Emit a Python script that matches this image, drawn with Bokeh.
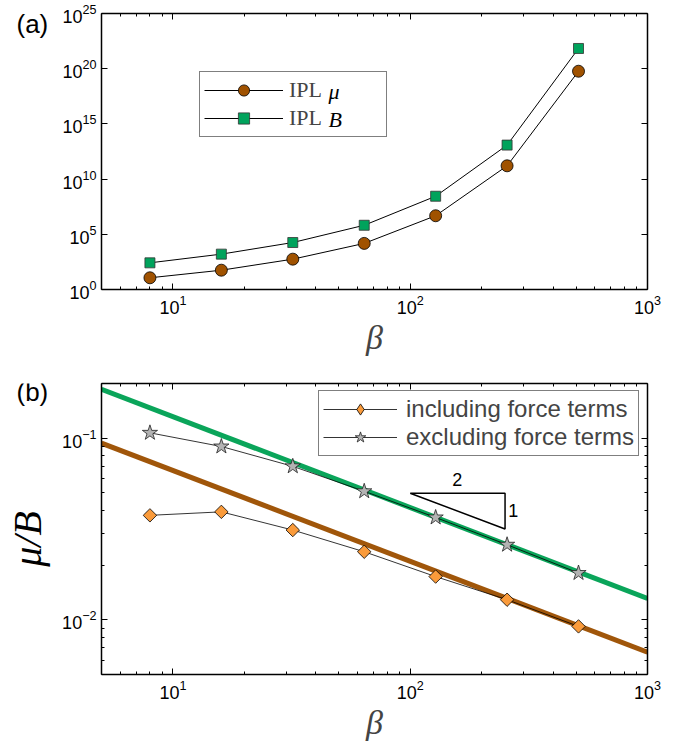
import numpy as np
from bokeh.plotting import figure
from bokeh.layouts import column, row
from bokeh.models import LogAxis, FixedTicker, Legend, LegendItem, Label
from bokeh.embed import file_html
from bokeh.resources import INLINE
from bokeh.core.properties import value

# ---------------- data ----------------
beta = [8, 16, 32, 64, 128, 256, 512]
ipl_mu = [11.5, 56, 560, 1.5e4, 4.8e6, 1.6e11, 5.9e19]
ipl_B = [260, 1.6e3, 1.8e4, 6.6e5, 2.8e8, 1.2e13, 6.8e21]

ratio_incl = [0.0376, 0.0393, 0.0312, 0.0237, 0.0173, 0.0129, 0.0092]
ratio_excl = [0.107, 0.090, 0.0700, 0.0510, 0.0366, 0.0259, 0.0181]

fit_beta = [5, 1000]
fit_excl = [0.186, 0.0131]
fit_incl = [0.0939, 0.00664]

tri_beta = [100, 251, 251, 100]
tri_ratio = [0.0498, 0.0498, 0.0316, 0.0498]
slope_labels = ["2", "1"]
slope_label_beta = [158, 272]
slope_label_ratio = [0.059, 0.0398]

x_major = [10, 100, 1000]
x_minor = [5, 6, 7, 8, 9, 20, 30, 40, 50, 60, 70, 80, 90,
           200, 300, 400, 500, 600, 700, 800, 900]
top_y_major = [1, 1e5, 1e10, 1e15, 1e20, 1e25]
bot_y_major = [0.01, 0.1]
bot_y_minor = [0.005, 0.006, 0.007, 0.008, 0.009,
               0.02, 0.03, 0.04, 0.05, 0.06, 0.07, 0.08, 0.09, 0.2]

BROWN = "#A05200"
GREEN_SQ = "#00A35C"
GREEN_LINE = "#0AA55A"
BROWN_LINE = "#A0560A"
ORANGE = "#FA9B3B"
GREY = "#B3B3B3"

SANS = "Liberation Sans"
SERIF = "Liberation Serif"

LEFT_W = 55      # side strip holding the panel tags and the y label


def style_axis(ax, labels=True):
    ax.axis_line_width = 1.5
    ax.axis_line_color = "black"
    ax.major_tick_in = 6
    ax.major_tick_out = 0
    ax.minor_tick_in = 3
    ax.minor_tick_out = 0
    ax.major_tick_line_color = "black"
    ax.minor_tick_line_color = "black"
    ax.major_tick_line_width = 1
    ax.minor_tick_line_width = 1
    ax.major_label_text_font = SANS
    ax.major_label_text_font_size = "18px"
    ax.major_label_text_color = "black"
    ax.major_label_standoff = 5
    if not labels:
        ax.major_label_text_font_size = "2px"
        ax.major_label_text_alpha = 0
        ax.major_label_standoff = 0


def make_fig(y_range, frame_h, top, bottom, yticks, yminor):
    p = figure(frame_width=546, frame_height=frame_h,
               x_axis_type="log", y_axis_type="log",
               x_range=(5, 1000), y_range=y_range,
               output_backend="svg", toolbar_location=None,
               min_border_left=46, min_border_right=26,
               min_border_top=top, min_border_bottom=bottom)
    p.grid.visible = False
    p.outline_line_color = None
    p.background_fill_color = "white"
    p.border_fill_color = "white"
    p.below[0].ticker = FixedTicker(ticks=x_major, minor_ticks=x_minor)
    p.left[0].ticker = FixedTicker(ticks=yticks, minor_ticks=yminor)
    style_axis(p.below[0])
    style_axis(p.left[0])
    ta = LogAxis(ticker=FixedTicker(ticks=x_major, minor_ticks=x_minor))
    ra = LogAxis(ticker=FixedTicker(ticks=yticks, minor_ticks=yminor))
    style_axis(ta, labels=False)
    style_axis(ra, labels=False)
    p.add_layout(ta, "above")
    p.add_layout(ra, "right")
    p.below[0].axis_label = "β"
    p.below[0].axis_label_text_font = SERIF
    p.below[0].axis_label_text_font_style = "italic"
    p.below[0].axis_label_text_font_size = "34px"
    p.below[0].axis_label_standoff = 2
    return p


def side_strip(height):
    s = figure(width=LEFT_W, height=height, x_range=(0, LEFT_W), y_range=(0, height),
               x_axis_location=None, y_axis_location=None,
               output_backend="svg", toolbar_location=None,
               min_border=0)
    s.grid.visible = False
    s.outline_line_color = None
    s.border_fill_color = "white"
    s.background_fill_color = "white"
    return s


# panel heights: top border + frame + bottom border
T1, F1, B1 = 13, 276, 80
T2, F2, B2 = 14, 291, 75
H1 = T1 + F1 + B1
H2 = T2 + F2 + B2

# ---------------- panel (a) ----------------
p1 = make_fig((1, 1e25), F1, T1, B1, top_y_major, [])

l_mu = p1.line(beta, ipl_mu, line_color="black", line_width=1)
l_B = p1.line(beta, ipl_B, line_color="black", line_width=1)
s_mu = p1.scatter(beta, ipl_mu, marker="circle", size=12,
                  fill_color=BROWN, line_color="black", line_width=0.8)
s_B = p1.scatter(beta, ipl_B, marker="square", size=10,
                 fill_color=GREEN_SQ, line_color="#333333", line_width=0.8)

leg1 = Legend(items=[LegendItem(label="IPL", renderers=[l_mu, s_mu]),
                     LegendItem(label="IPL", renderers=[l_B, s_B])],
              location=(98, 152), margin=0, padding=4, spacing=0,
              glyph_width=79, glyph_height=28, label_height=28,
              label_width=93, label_standoff=6,
              label_text_font=SERIF, label_text_font_size="22px",
              border_line_color="black", border_line_width=1.2,
              background_fill_alpha=0.0)
p1.add_layout(leg1, "center")

for yy, t in [(198, "μ"), (170, "B")]:
    p1.add_layout(Label(x=227, y=yy, x_units="screen", y_units="screen",
                        text=t, text_font=SERIF, text_font_style="italic",
                        text_font_size="22px", text_baseline="middle",
                        text_align="left", text_color="black"))

s1 = side_strip(H1)
s1.text(x=[16], y=[H1 - 14], text=["(a)"], text_font=value(SANS),
        text_font_size="26px", text_align="left", text_baseline="middle",
        text_color="black")

# ---------------- panel (b) ----------------
p2 = make_fig((0.005, 0.2), F2, T2, B2, bot_y_major, bot_y_minor)

p2.line(fit_beta, fit_excl, line_color=GREEN_LINE, line_width=5)
p2.line(fit_beta, fit_incl, line_color=BROWN_LINE, line_width=5)

l_in = p2.line(beta, ratio_incl, line_color="black", line_width=0.8)
l_ex = p2.line(beta, ratio_excl, line_color="black", line_width=0.8)
# legend key (diamond), hidden beneath the real markers
s_in_key = p2.scatter(beta, ratio_incl, marker="diamond", size=1,
                      fill_color=ORANGE, line_color="black", line_width=0.8)
s_in = p2.scatter(beta, ratio_incl, marker="square", angle=np.pi / 4, size=9.5,
                  fill_color=ORANGE, line_color="black", line_width=0.8)
s_ex = p2.scatter(beta, ratio_excl, marker="star", size=16,
                  fill_color=GREY, line_color="#222222", line_width=0.8)

p2.line(tri_beta, tri_ratio, line_color="black", line_width=1.5)
p2.text(x=slope_label_beta, y=slope_label_ratio, text=slope_labels,
        text_font=value(SANS), text_font_size="18px",
        text_align="center", text_baseline="middle", text_color="black")

leg2 = Legend(items=[LegendItem(label="including force terms", renderers=[l_in, s_in_key]),
                     LegendItem(label="excluding force terms", renderers=[l_ex, s_ex])],
              location=(217, 218), margin=0, padding=4, spacing=0,
              glyph_width=74, glyph_height=28, label_height=28,
              label_standoff=9,
              label_text_font=SANS, label_text_font_size="24px",
              border_line_color="black", border_line_width=1.2,
              background_fill_alpha=1.0)
p2.add_layout(leg2, "center")

s2 = side_strip(H2)
s2.text(x=[16], y=[H2 - 11], text=["(b)"], text_font=value(SANS),
        text_font_size="26px", text_align="left", text_baseline="middle",
        text_color="black")
s2.text(x=[27], y=[H2 - 203], text=["μ/B"], angle=np.pi / 2,
        text_font=value(SERIF), text_font_style="italic",
        text_font_size="40px", text_align="center", text_baseline="middle",
        text_color="black")

layout = column(row(s1, p1, spacing=0), row(s2, p2, spacing=0), spacing=0)
open("out.html", "w").write(file_html(layout, INLINE))
